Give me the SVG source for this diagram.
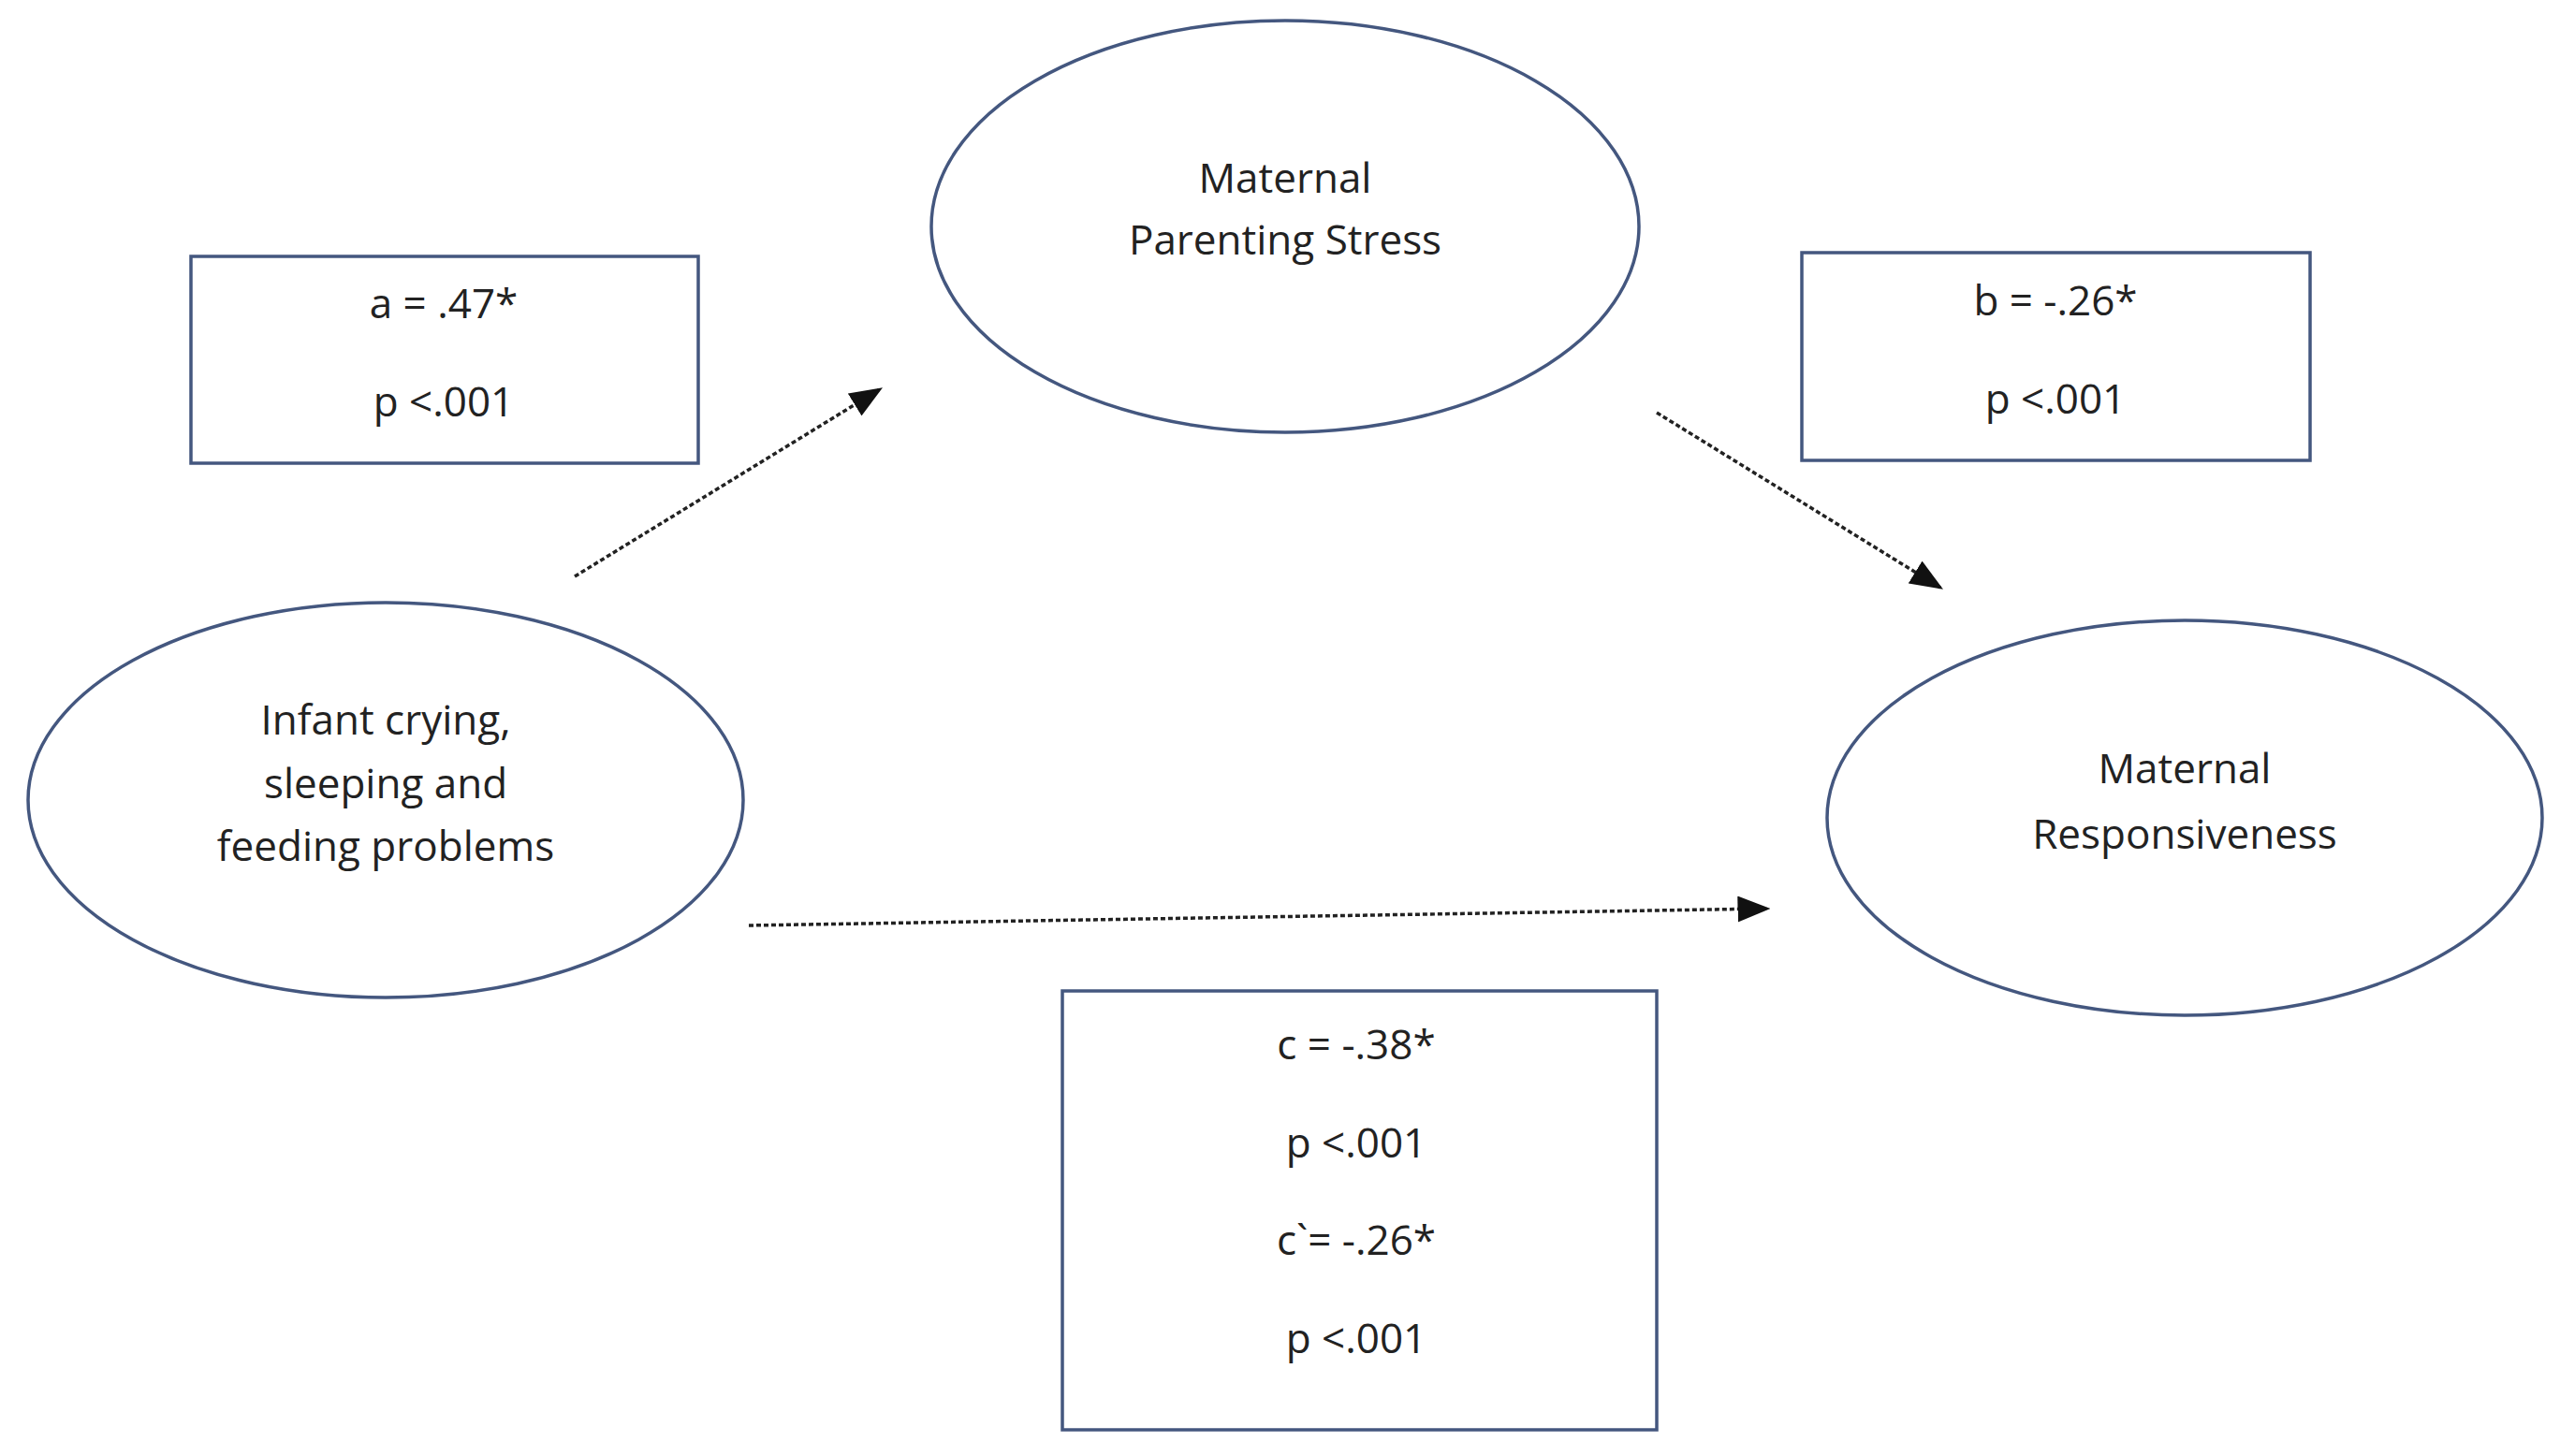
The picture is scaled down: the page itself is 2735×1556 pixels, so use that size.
<svg xmlns="http://www.w3.org/2000/svg" width="2735" height="1556" viewBox="0 0 2735 1556">
<style>
.n{fill:#fff;stroke:#44577f;stroke-width:3.5}
.t{font-family:"Open Sans",sans-serif;font-size:44px;fill:#222;text-anchor:middle}
.e{stroke:#222;stroke-width:3.5;stroke-dasharray:5 3;fill:none;marker-end:url(#ah)}
</style>
<defs><marker id="ah" markerWidth="10" markerHeight="8" refX="9" refY="4" orient="auto" markerUnits="strokeWidth"><path d="M0,0 L10,4 L0,8 z" fill="#111"/></marker></defs>
<rect width="2735" height="1556" fill="#fff"/>
<g id="connectors">
<line class="e" x1="614" y1="616" x2="940" y2="416"/>
<line class="e" x1="1770" y1="441" x2="2073" y2="628"/>
<line class="e" x1="800" y1="989" x2="1888" y2="971"/>
</g>
<g id="stress"><ellipse class="n" cx="1373" cy="242" rx="378" ry="220"/>
<text class="t" x="1373" y="206">Maternal</text><text class="t" x="1373" y="272">Parenting Stress</text></g>
<g id="infant"><ellipse class="n" cx="412" cy="855" rx="382" ry="211"/>
<text class="t" x="412" y="785">Infant crying,</text><text class="t" x="412" y="853">sleeping and</text><text class="t" x="412" y="920">feeding problems</text></g>
<g id="resp"><ellipse class="n" cx="2334" cy="874" rx="382" ry="211"/>
<text class="t" x="2334" y="837">Maternal</text><text class="t" x="2334" y="907">Responsiveness</text></g>
<g id="boxa"><rect class="n" x="204" y="274" width="542" height="221"/>
<text class="t" x="474" y="340">a = .47*</text><text class="t" x="474" y="445">p &lt;.001</text></g>
<g id="boxb"><rect class="n" x="1925" y="270" width="543" height="222"/>
<text class="t" x="2196" y="337">b = -.26*</text><text class="t" x="2196" y="442">p &lt;.001</text></g>
<g id="boxc"><rect class="n" x="1135" y="1059" width="635" height="469"/>
<text class="t" x="1449" y="1132">c = -.38*</text><text class="t" x="1449" y="1237">p &lt;.001</text><text class="t" x="1449" y="1341">c`= -.26*</text><text class="t" x="1449" y="1446">p &lt;.001</text></g>
</svg>
